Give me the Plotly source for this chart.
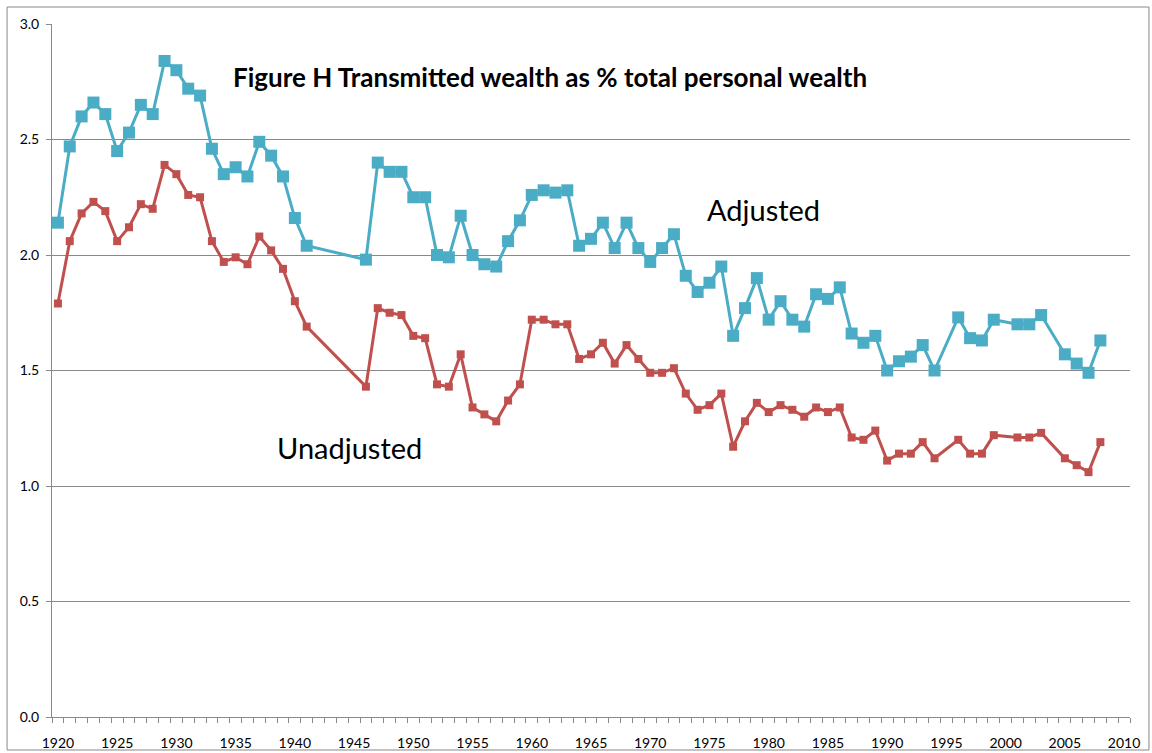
import plotly.graph_objects as go

# years with observations (gaps: 1942-45, 1995, 2000, 2004)
years = list(range(1920, 1942)) + list(range(1946, 1995)) + \
    [1996, 1997, 1998, 1999, 2001, 2002, 2003, 2005, 2006, 2007, 2008]

adjusted = [
    2.14, 2.47, 2.60, 2.66, 2.61, 2.45, 2.53, 2.65, 2.61, 2.84, 2.80,
    2.72, 2.69, 2.46, 2.35, 2.38, 2.34, 2.49, 2.43, 2.34, 2.16, 2.04,
    1.98, 2.40, 2.36, 2.36, 2.25, 2.25, 2.00, 1.99, 2.17, 2.00, 1.96,
    1.95, 2.06, 2.15, 2.26, 2.28, 2.27, 2.28, 2.04, 2.07, 2.14, 2.03,
    2.14, 2.03, 1.97, 2.03, 2.09, 1.91, 1.84, 1.88, 1.95, 1.65, 1.77,
    1.90, 1.72, 1.80, 1.72, 1.69, 1.83, 1.81, 1.86, 1.66, 1.62, 1.65,
    1.50, 1.54, 1.56, 1.61, 1.50,
    1.73, 1.64, 1.63, 1.72, 1.70, 1.70, 1.74, 1.57, 1.53, 1.49, 1.63,
]

unadjusted = [
    1.79, 2.06, 2.18, 2.23, 2.19, 2.06, 2.12, 2.22, 2.20, 2.39, 2.35,
    2.26, 2.25, 2.06, 1.97, 1.99, 1.96, 2.08, 2.02, 1.94, 1.80, 1.69,
    1.43, 1.77, 1.75, 1.74, 1.65, 1.64, 1.44, 1.43, 1.57, 1.34, 1.31,
    1.28, 1.37, 1.44, 1.72, 1.72, 1.70, 1.70, 1.55, 1.57, 1.62, 1.53,
    1.61, 1.55, 1.49, 1.49, 1.51, 1.40, 1.33, 1.35, 1.40, 1.17, 1.28,
    1.36, 1.32, 1.35, 1.33, 1.30, 1.34, 1.32, 1.34, 1.21, 1.20, 1.24,
    1.11, 1.14, 1.14, 1.19, 1.12,
    1.20, 1.14, 1.14, 1.22, 1.21, 1.21, 1.23, 1.12, 1.09, 1.06, 1.19,
]

BLUE = '#4BACC6'
RED = '#C0504D'
GRID = '#898989'
FONT = 'Lato'

fig = go.Figure()

fig.add_scatter(x=years, y=adjusted, mode='lines+markers', name='Adjusted',
                line=dict(color=BLUE, width=3),
                marker=dict(symbol='square', size=12, color=BLUE))

fig.add_scatter(x=years, y=unadjusted, mode='lines+markers', name='Unadjusted',
                line=dict(color=RED, width=3),
                marker=dict(symbol='square', size=8, color=RED))

fig.add_annotation(x=0.462, y=0.924, xref='paper', yref='paper',
                   xanchor='center', yanchor='middle',
                   text='<b>Figure H Transmitted wealth as % total personal wealth</b>',
                   showarrow=False, font=dict(family=FONT, size=26, color='black'))
fig.add_annotation(x=1979.6, y=2.195, text='Adjusted', showarrow=False,
                   font=dict(family=FONT, size=29, color='black'))
fig.add_annotation(x=1944.6, y=1.165, text='Unadjusted', showarrow=False,
                   font=dict(family=FONT, size=29, color='black'))

# chart-area border
fig.add_shape(type='rect', xref='paper', yref='paper',
              x0=-0.0417, x1=1.0176, y0=-0.0476, y1=1.0245,
              line=dict(color=GRID, width=1))

fig.update_layout(
    width=1152, height=753,
    margin=dict(l=52, r=22, t=24, b=36),
    paper_bgcolor='white', plot_bgcolor='white',
    showlegend=False,
    font=dict(family=FONT, size=14, color='black'),
    xaxis=dict(range=[1919.5, 2010.5], tick0=1920, dtick=5, ticks='',
               ticklabelstandoff=13, automargin=False,
               showgrid=False, showline=True, linecolor=GRID, linewidth=1,
               zeroline=False,
               minor=dict(ticks='outside', tick0=1919.5, dtick=1, ticklen=5,
                          tickcolor=GRID, showgrid=False)),
    yaxis=dict(range=[0, 3.0], dtick=0.5, tickformat='.1f', ticks='outside',
               ticklabelstandoff=4, automargin=False,
               ticklen=5, tickcolor=GRID, showgrid=True, gridcolor=GRID,
               gridwidth=1, showline=True, linecolor=GRID, linewidth=1,
               zeroline=False),
)

fig.write_html('out.html', config={'displayModeBar': False},
               post_script="document.body.style.margin='0';")
